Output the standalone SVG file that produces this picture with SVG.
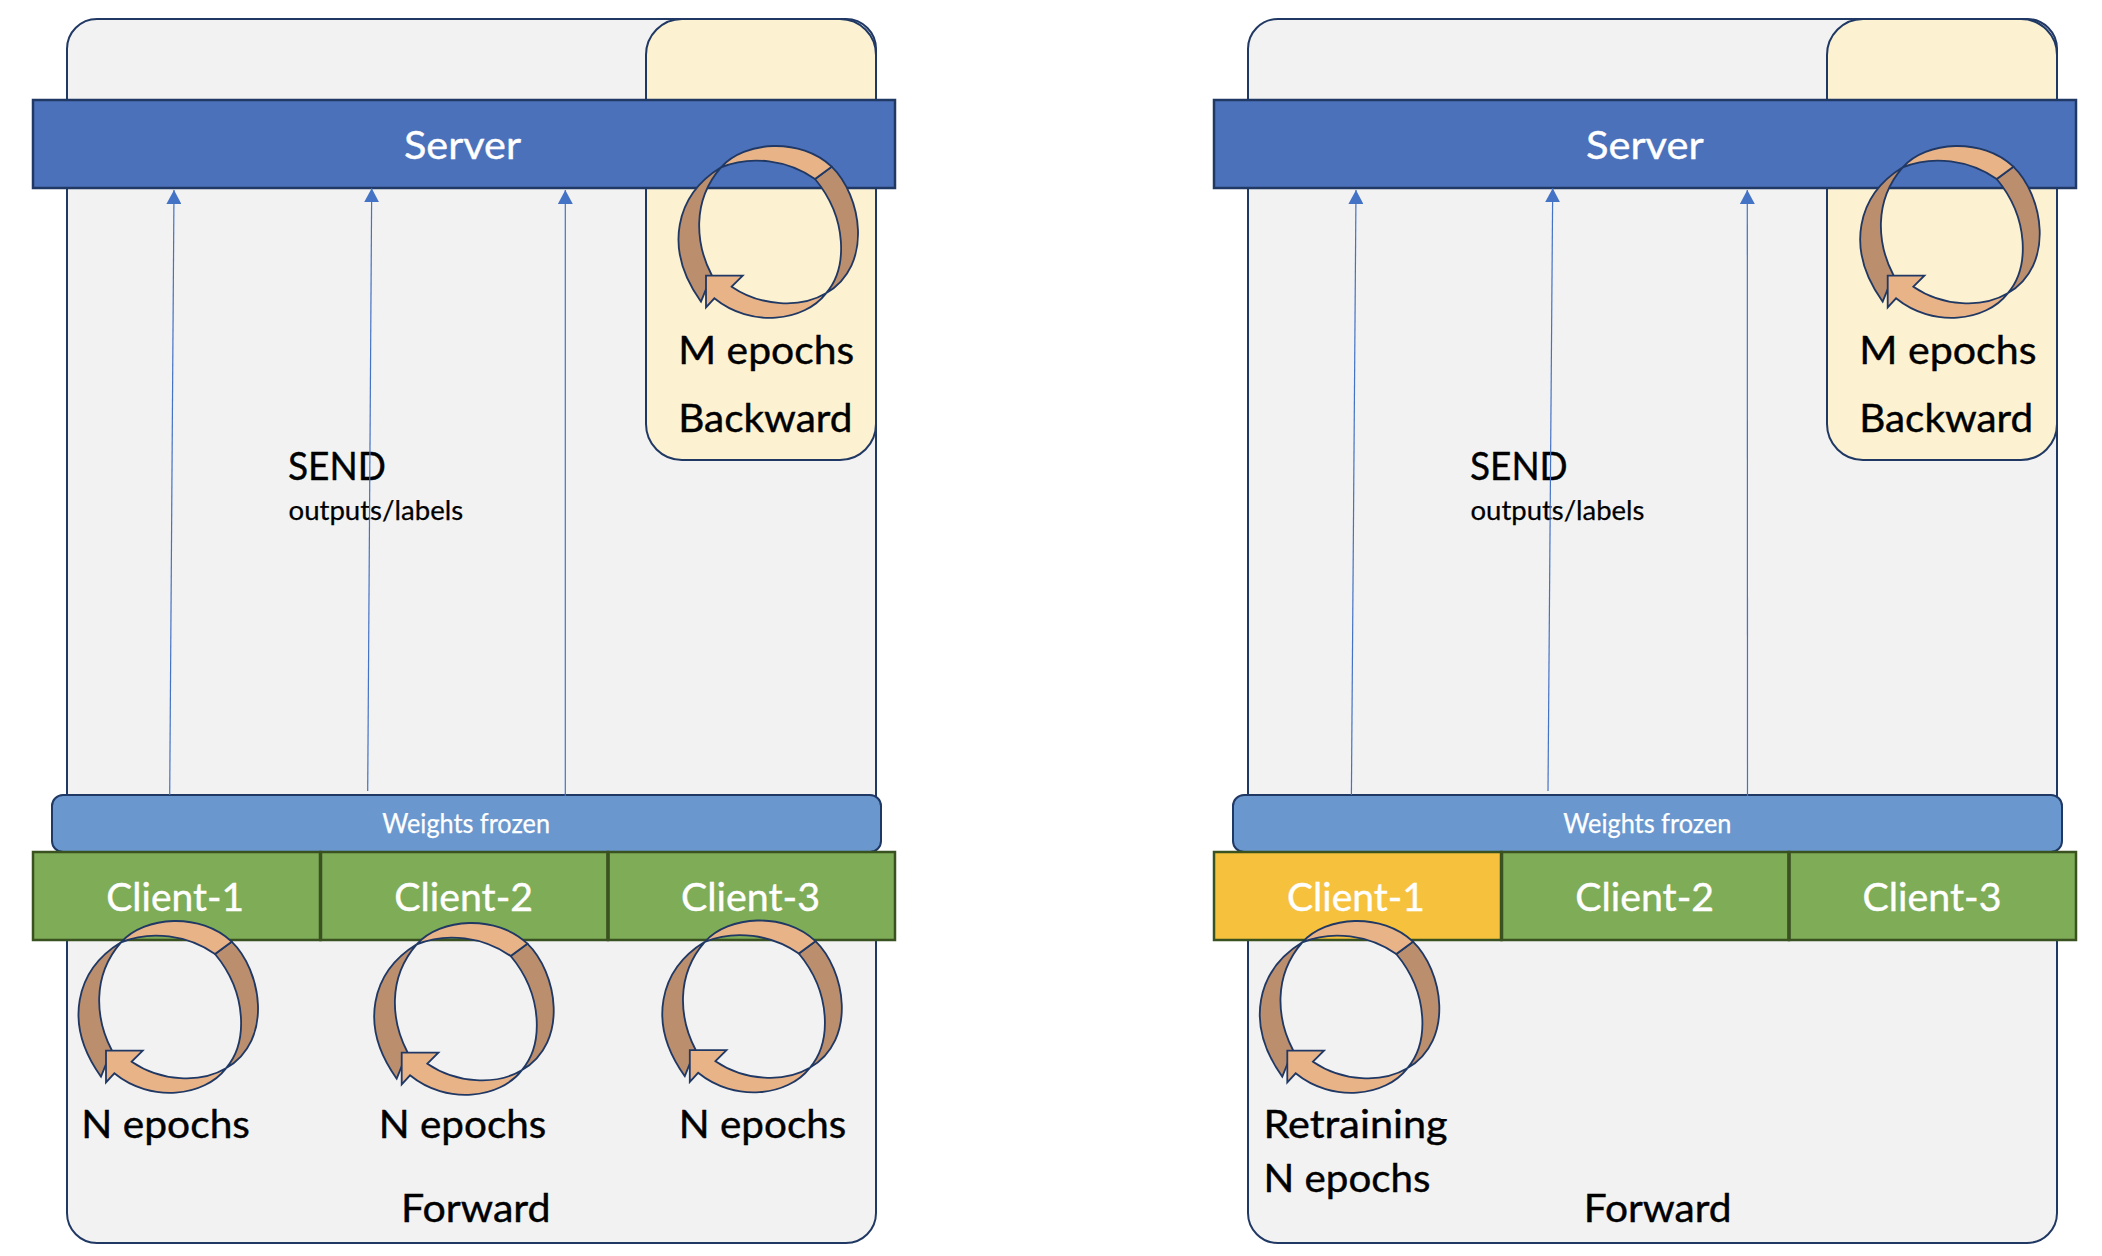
<svg xmlns="http://www.w3.org/2000/svg" xmlns:xlink="http://www.w3.org/1999/xlink" width="2102" height="1256" viewBox="0 0 2102 1256">
<style>
text{font-family:"Lato","Liberation Sans",sans-serif;fill:#000;stroke:#000;stroke-width:.4}
.b{font-size:39px}
.s{font-size:27px;stroke-width:.25}
.w{fill:#fff;stroke:#fff}
.panel{fill:#f2f2f2;stroke:#203864;stroke-width:2}
.back{fill:#fcf1d0;stroke:#203864;stroke-width:2}
.server{fill:#4c71bb;stroke:#203864;stroke-width:2.5}
.frozen{fill:#6a98ce;stroke:#203864;stroke-width:2}
.client{fill:#7fac57;stroke:#3a5220;stroke-width:2.5}
.retrain{fill:#f6c23d;stroke:#3a5220;stroke-width:2.5}
.div{stroke:#3a5220;stroke-width:3.5;fill:none}
.lt{fill:#e9b388;stroke:#203864;stroke-width:5.5}
.dk{fill:#bb8f6d;stroke:#203864;stroke-width:5.5}
.link{stroke:#4472c4;stroke-width:1.2;fill:none;marker-end:url(#tri)}
</style>
<defs>
<marker id="tri" markerUnits="userSpaceOnUse" markerWidth="15" markerHeight="15" refX="14" refY="7.5" orient="auto"><path d="M0 0L14 7.5L0 15Z" fill="#4472c4"/></marker>
<g id="loop" transform="scale(.33333)">
<path class="dk" d="M300 487C165 570 125 730 240 890L272 810C225 720 210 590 300 487Z"/>
<path class="dk" d="M632 485C720 570 760 780 615 865C680 790 680 640 582 522Z"/>
<path class="lt" d="M300 487C370 407 540 397 632 485L582 522C500 465 390 450 300 487Z"/>
<path class="lt" d="M255 812L365 812L332 845C420 905 540 910 615 865C550 950 390 970 280 880L255 907Z"/>
</g>
</defs>

<g id="left-panel">
<g id="forward-box-1"><rect class="panel" x="67" y="19" width="809" height="1224" rx="30"/><text class="b" x="401" y="1221.7" textLength="149.6" lengthAdjust="spacingAndGlyphs">Forward</text></g>
<g id="backward-box-1"><rect class="back" x="646" y="19" width="230" height="441" rx="36"/></g>
<g id="server-1"><rect class="server" x="33" y="100" width="862" height="88"/><text class="b w" x="404" y="159" textLength="117" lengthAdjust="spacingAndGlyphs">Server</text></g>
<g id="frozen-1"><rect class="frozen" x="52" y="795" width="829" height="57" rx="11"/><text class="s w" x="382.3" y="832.7" textLength="167.7" lengthAdjust="spacingAndGlyphs">Weights frozen</text></g>
<g id="client-1-1"><rect class="client" x="33" y="852" width="287.5" height="88"/><text class="b w" x="106.3" y="910.7" textLength="137.7" lengthAdjust="spacingAndGlyphs">Client-1</text></g>
<g id="client-1-2"><rect class="client" x="320.5" y="852" width="287.5" height="88"/><path class="div" d="M320.5 852V940"/><text class="b w" x="394.3" y="910.7" textLength="138.7" lengthAdjust="spacingAndGlyphs">Client-2</text></g>
<g id="client-1-3"><rect class="client" x="608" y="852" width="287" height="88"/><path class="div" d="M608 852V940"/><text class="b w" x="681" y="910.7" textLength="139" lengthAdjust="spacingAndGlyphs">Client-3</text></g>
<g id="loop-1-1"><use xlink:href="#loop" href="#loop" x="21" y="780"/><text class="b" x="81.3" y="1137.7" textLength="168.7" lengthAdjust="spacingAndGlyphs">N epochs</text></g>
<g id="loop-1-2"><use xlink:href="#loop" href="#loop" x="316.7" y="782"/><text class="b" x="378.7" y="1137.7" textLength="167.6" lengthAdjust="spacingAndGlyphs">N epochs</text></g>
<g id="loop-1-3"><use xlink:href="#loop" href="#loop" x="604.8" y="779.5"/><text class="b" x="678.7" y="1137.7" textLength="167.6" lengthAdjust="spacingAndGlyphs">N epochs</text></g>
<g id="loop-1-m"><use xlink:href="#loop" href="#loop" x="621" y="5"/><text class="b" x="678.2" y="364" textLength="176" lengthAdjust="spacingAndGlyphs">M epochs</text><text class="b" x="678.2" y="431.7" textLength="174.3" lengthAdjust="spacingAndGlyphs">Backward</text></g>
<g id="send-1"><text class="b" x="288" y="480" textLength="98" lengthAdjust="spacingAndGlyphs">SEND</text><text class="s" x="288.5" y="520" textLength="174.7" lengthAdjust="spacingAndGlyphs">outputs/labels</text></g>
</g>

<g id="right-panel">
<g id="forward-box-2"><rect class="panel" x="1248" y="19" width="809" height="1224" rx="30"/><text class="b" x="1583.7" y="1221.7" textLength="147.9" lengthAdjust="spacingAndGlyphs">Forward</text></g>
<g id="backward-box-2"><rect class="back" x="1827" y="19" width="230" height="441" rx="36"/></g>
<g id="server-2"><rect class="server" x="1214" y="100" width="862" height="88"/><text class="b w" x="1586" y="159" textLength="117.6" lengthAdjust="spacingAndGlyphs">Server</text></g>
<g id="frozen-2"><rect class="frozen" x="1233" y="795" width="829" height="57" rx="11"/><text class="s w" x="1563.3" y="832.7" textLength="168.1" lengthAdjust="spacingAndGlyphs">Weights frozen</text></g>
<g id="client-2-1"><rect class="retrain" x="1214" y="852" width="287.5" height="88"/><text class="b w" x="1287" y="910.7" textLength="138" lengthAdjust="spacingAndGlyphs">Client-1</text></g>
<g id="client-2-2"><rect class="client" x="1501.5" y="852" width="287.5" height="88"/><path class="div" d="M1501.5 852V940"/><text class="b w" x="1575.3" y="910.7" textLength="138.7" lengthAdjust="spacingAndGlyphs">Client-2</text></g>
<g id="client-2-3"><rect class="client" x="1789" y="852" width="287" height="88"/><path class="div" d="M1789 852V940"/><text class="b w" x="1862.5" y="910.7" textLength="139" lengthAdjust="spacingAndGlyphs">Client-3</text></g>
<g id="loop-2-1"><use xlink:href="#loop" href="#loop" x="1202.3" y="780"/><text class="b" x="1263.4" y="1137.7" textLength="184.3" lengthAdjust="spacingAndGlyphs">Retraining</text><text class="b" x="1263.4" y="1191.5" textLength="167.2" lengthAdjust="spacingAndGlyphs">N epochs</text></g>
<g id="loop-2-m"><use xlink:href="#loop" href="#loop" x="1802.7" y="5"/><text class="b" x="1859.2" y="364" textLength="177.3" lengthAdjust="spacingAndGlyphs">M epochs</text><text class="b" x="1859.2" y="431.7" textLength="174" lengthAdjust="spacingAndGlyphs">Backward</text></g>
<g id="send-2"><text class="b" x="1470" y="480" textLength="97.7" lengthAdjust="spacingAndGlyphs">SEND</text><text class="s" x="1470.5" y="520" textLength="174" lengthAdjust="spacingAndGlyphs">outputs/labels</text></g>
</g>

<g id="connectors">
<path class="link" d="M169.7 795L174 190"/>
<path class="link" d="M367.7 791L371.7 188.3"/>
<path class="link" d="M565.3 796L565.3 190"/>
<path class="link" d="M1351.4 795L1356 190"/>
<path class="link" d="M1548 791L1552.7 188.3"/>
<path class="link" d="M1747.5 796L1747.3 190"/>
</g>
</svg>
